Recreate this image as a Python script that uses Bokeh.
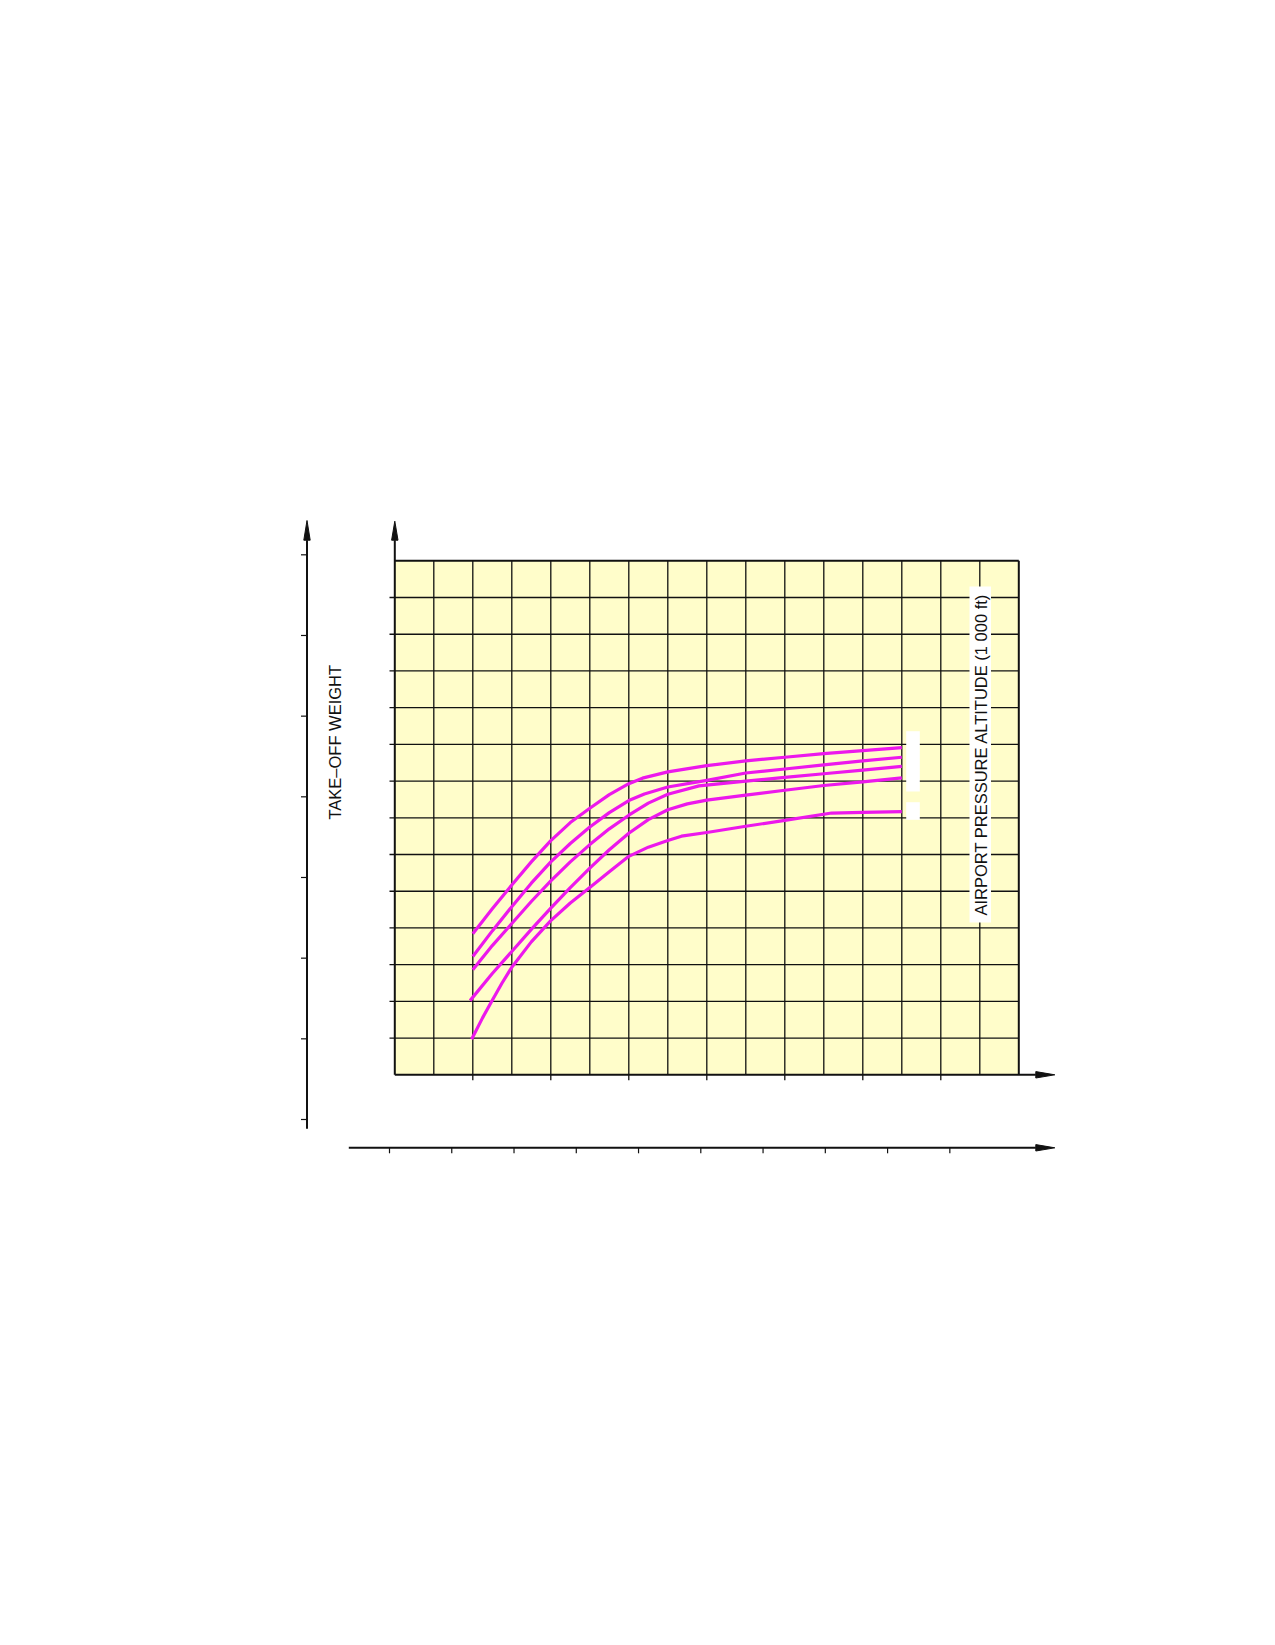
import numpy as np
from bokeh.plotting import figure
from bokeh.models import Range1d
from bokeh.core.properties import value
from bokeh.embed import file_html
from bokeh.resources import INLINE

# ---------------- data (grid units: 16 columns x 14 rows) ----------------
n_cols = 16
n_rows = 14

curve_a_x = [2, 2.5, 3, 3.5, 4, 4.5, 5, 5.5, 6, 6.35, 7, 8, 9, 10, 11, 12, 13]
curve_a_y = [3.84, 4.52, 5.17, 5.8, 6.38, 6.87, 7.26, 7.63, 7.93, 8.08, 8.25, 8.42, 8.55, 8.65, 8.75, 8.83, 8.91]

curve_b_x = [2, 2.5, 3, 3.5, 4, 4.5, 5, 5.5, 6, 6.4, 7, 8, 9, 10, 11, 12, 13]
curve_b_y = [3.22, 3.92, 4.58, 5.22, 5.8, 6.3, 6.75, 7.14, 7.47, 7.65, 7.84, 8.02, 8.22, 8.33, 8.44, 8.55, 8.65]

curve_c_x = [2, 2.5, 3, 3.5, 4, 4.5, 5, 5.5, 6, 6.5, 7, 7.8, 9, 10, 11, 12, 13]
curve_c_y = [2.86, 3.52, 4.12, 4.72, 5.28, 5.8, 6.27, 6.7, 7.07, 7.4, 7.64, 7.87, 8.0, 8.1, 8.2, 8.3, 8.4]

curve_d_x = [1.93, 2.5, 3, 3.5, 4, 4.5, 5, 5.5, 6, 6.5, 7, 7.5, 8, 9, 10, 11, 12, 13]
curve_d_y = [2.02, 2.76, 3.36, 3.96, 4.54, 5.1, 5.63, 6.13, 6.58, 6.95, 7.22, 7.38, 7.48, 7.62, 7.75, 7.88, 7.98, 8.09]

curve_e_x = [1.97, 2.25, 2.5, 2.75, 3, 3.5, 4, 4.5, 5, 5.5, 6, 6.5, 7, 7.35, 8, 9, 10, 11.2, 12, 13]
curve_e_y = [0.97, 1.55, 2.03, 2.5, 2.93, 3.62, 4.2, 4.68, 5.1, 5.53, 5.95, 6.2, 6.38, 6.5, 6.6, 6.77, 6.93, 7.13, 7.15, 7.17]

bottom_tick_cols = [2, 4, 6, 8, 10, 12, 14]
outer_x_ticks = list(range(10))      # tick index along outer horizontal axis
outer_y_ticks = list(range(8))       # tick index along outer vertical axis

y_label = "TAKE–OFF WEIGHT"
alt_label = "AIRPORT PRESSURE ALTITUDE (1 000 ft)"

# ---------------- geometry ----------------
W, H = 1260, 1630
CW, CH = 39.0, 36.714            # pixels per grid cell
ox, oy = 394.3, 1074.3           # grid origin in page pixels
x0 = -ox / CW
x1 = (W - ox) / CW
y1 = oy / CH
y0 = -(H - oy) / CH

def px(n):   # pixels -> x units
    return n / CW

def py(n):   # pixels -> y units
    return n / CH

p = figure(width=W, height=H, x_range=Range1d(x0, x1), y_range=Range1d(y0, y1),
           x_axis_type=None, y_axis_type=None, toolbar_location=None,
           output_backend="svg", min_border=0, outline_line_color=None,
           background_fill_color="white", border_fill_color="white")
p.xgrid.visible = False
p.ygrid.visible = False

ink = "#111111"

# chart area
p.quad(left=[0], right=[n_cols], bottom=[0], top=[n_rows],
       fill_color="#FFFDCA", line_color=None)

# grid lines
vx = list(range(1, n_cols))
p.multi_line(xs=[[c, c] for c in vx], ys=[[0, n_rows] for _ in vx],
             line_color=ink, line_width=1.3)
hy = list(range(1, n_rows))
p.multi_line(xs=[[-px(5.3), n_cols] for _ in hy], ys=[[r, r] for r in hy],
             line_color=ink, line_width=1.3)

# bottom ticks
p.multi_line(xs=[[c, c] for c in bottom_tick_cols],
             ys=[[0, -py(5.5)] for _ in bottom_tick_cols],
             line_color=ink, line_width=1.3)

# box border
p.multi_line(xs=[[0, n_cols], [n_cols, n_cols]], ys=[[n_rows, n_rows], [0, n_rows]],
             line_color=ink, line_width=2)

# inner axes with arrows
ax_top = (1074.3 - 520.7) / CH
ax_right = (1054.3 - 394.3) / CW
head_len_x, head_half_y = px(19), py(3.2)
head_len_y, head_half_x = py(19), px(3.2)
p.multi_line(xs=[[0, 0], [0, ax_right - head_len_x]],
             ys=[[0, ax_top - head_len_y], [0, 0]],
             line_color=ink, line_width=2)

# outer axes
oxl = (306.5 - 394.3) / CW
oyl_bot = (1074.3 - 1128.3) / CH
oxa_y = (1074.3 - 1147.3) / CH
oxa_left = (348.3 - 394.3) / CW
p.multi_line(xs=[[oxl, oxl], [oxa_left, ax_right - head_len_x]],
             ys=[[oyl_bot, ax_top - head_len_y], [oxa_y, oxa_y]],
             line_color=ink, line_width=2)

# outer ticks
oy_first = (1074.3 - 1119.0) / CH
oy_step = 80.67 / CH
p.multi_line(xs=[[oxl - px(6), oxl] for _ in outer_y_ticks],
             ys=[[oy_first + k * oy_step] * 2 for k in outer_y_ticks],
             line_color=ink, line_width=1.2)
ox_first = (389.0 - 394.3) / CW
ox_step = 62.26 / CW
p.multi_line(xs=[[ox_first + k * ox_step] * 2 for k in outer_x_ticks],
             ys=[[oxa_y, oxa_y - py(5.5)] for _ in outer_x_ticks],
             line_color=ink, line_width=1.2)

# arrow heads
heads_x = [
    [0 - head_half_x, 0 + head_half_x, 0],
    [oxl - head_half_x, oxl + head_half_x, oxl],
    [ax_right - head_len_x, ax_right - head_len_x, ax_right],
    [ax_right - head_len_x, ax_right - head_len_x, ax_right],
]
heads_y = [
    [ax_top - head_len_y, ax_top - head_len_y, ax_top],
    [ax_top - head_len_y, ax_top - head_len_y, ax_top + py(0.7)],
    [-head_half_y, head_half_y, 0],
    [oxa_y - head_half_y, oxa_y + head_half_y, oxa_y],
]
p.patches(xs=heads_x, ys=heads_y, fill_color=ink, line_color=ink, line_width=1)

# curves
mag = "#EC18EC"
for cx, cy in [(curve_a_x, curve_a_y), (curve_b_x, curve_b_y), (curve_c_x, curve_c_y),
               (curve_d_x, curve_d_y), (curve_e_x, curve_e_y)]:
    p.line(cx, cy, line_color=mag, line_width=3.2, line_join="round")

# white marks next to the curve ends
wl, wr = (905.7 - 394.3) / CW, (919.3 - 394.3) / CW
p.quad(left=[wl, wl], right=[wr, wr],
       top=[(1074.3 - 730.7) / CH, (1074.3 - 801.7) / CH],
       bottom=[(1074.3 - 791.0) / CH, (1074.3 - 819.3) / CH],
       fill_color="white", line_color=None)

# altitude label with white background
p.quad(left=[(969 - 394.3) / CW], right=[(990.5 - 394.3) / CW],
       top=[(1074.3 - 586) / CH], bottom=[(1074.3 - 922) / CH],
       fill_color="white", line_color=None)
p.text(x=[(980.5 - 394.3) / CW], y=[(1074.3 - 754) / CH], text=[alt_label],
       angle=np.pi / 2, text_align="center", text_baseline="middle",
       text_font=value("Liberation Sans"), text_font_size=value("16.5px"),
       text_color="#111111")

# weight label
p.text(x=[(334.5 - 394.3) / CW], y=[(1074.3 - 741.7) / CH], text=[y_label],
       angle=np.pi / 2, text_align="center", text_baseline="middle",
       text_font=value("Liberation Sans"), text_font_size=value("16.5px"),
       text_color="#111111")

open("out.html", "w").write(file_html(p, INLINE))
